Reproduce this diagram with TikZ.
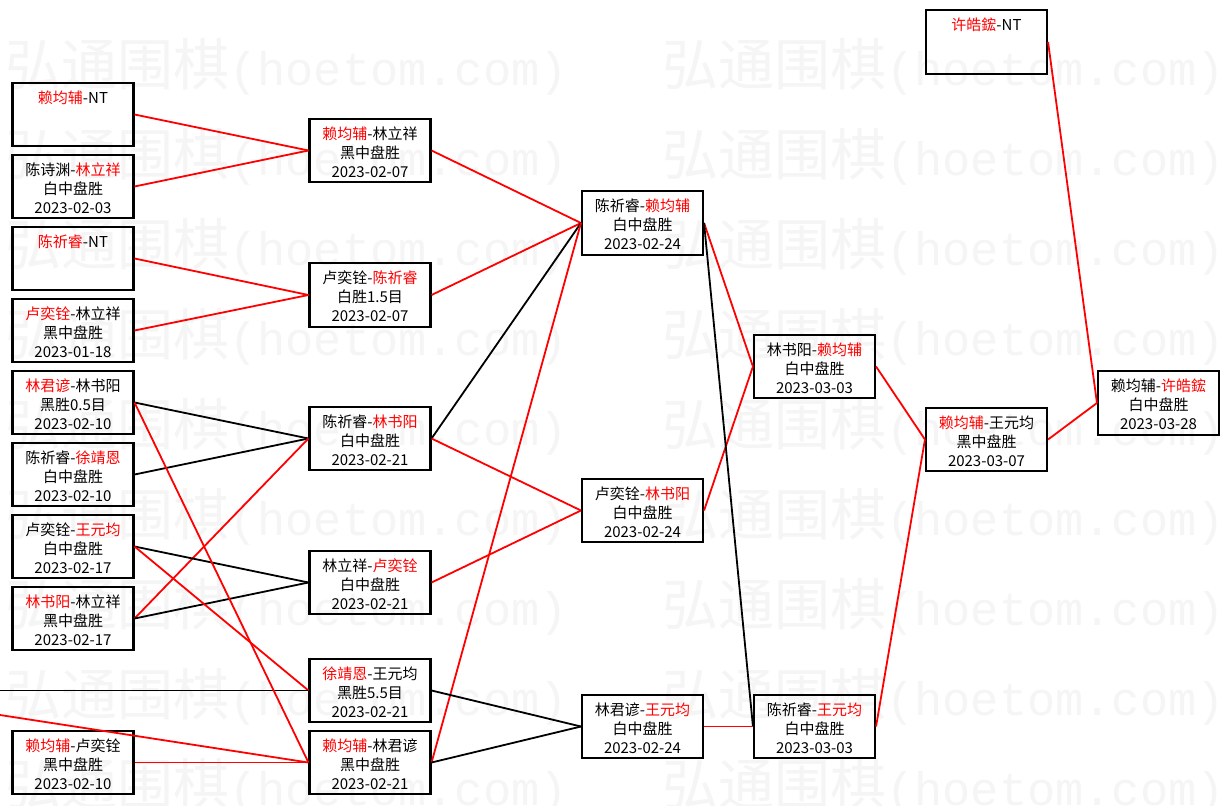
\documentclass[tikz,border=0pt]{standalone}
\usepackage{fontspec}
\setmainfont{Noto Sans CJK SC}
\newfontfamily\wmlat{Liberation Mono}
\newcommand\gtext[3]{\rule{0pt}{16pt}#1\\#2\\#3\vphantom{0}}
\newcommand\rd[1]{\textcolor{red}{#1}}
\begin{document}
\begin{tikzpicture}[x=1pt,y=-1pt,
  game/.style={draw=black, line width=2.1pt, minimum width=121pt, minimum height=63.5pt,
    inner sep=0pt, align=center, font=\fontsize{15}{19}\selectfont},
  win/.style={draw=red, line width=1.8pt},
  lose/.style={draw=black, line width=1.8pt},
  wm/.style={anchor=west, inner sep=0pt, text=black!4, font=\fontsize{56}{56}\selectfont}]
\useasboundingbox (0,0) rectangle (1230,805);
\fill[white] (0,0) rectangle (1230,805);
% watermark
\begin{scope}
\clip (0,0) rectangle (1230,805);
\foreach \k in {0,...,8}{
  \foreach \j in {0,1}{
    \node[wm] (wm-\k-\j) at ({5+657*\j},{67+90*\k}) {弘通围棋{\wmlat\fontsize{47}{47}\selectfont(hoetom.com)}};
  }}
\end{scope}
% column 1
\node[game] (b1) at (73,114.5) {\gtext{\rd{赖均辅}-NT}{\mbox{}}{\mbox{}}};
\node[game] (b2) at (73,186.5) {\gtext{陈诗渊-\rd{林立祥}}{白中盘胜}{2023-02-03}};
\node[game] (b3) at (73,258.5) {\gtext{\rd{陈祈睿}-NT}{\mbox{}}{\mbox{}}};
\node[game] (b4) at (73,330.5) {\gtext{\rd{卢奕铨}-林立祥}{黑中盘胜}{2023-01-18}};
\node[game] (b5) at (73,402.5) {\gtext{\rd{林君谚}-林书阳}{黑胜0.5目}{2023-02-10}};
\node[game] (b6) at (73,474.5) {\gtext{陈祈睿-\rd{徐靖恩}}{白中盘胜}{2023-02-10}};
\node[game] (b7) at (73,546.5) {\gtext{卢奕铨-\rd{王元均}}{白中盘胜}{2023-02-17}};
\node[game] (b8) at (73,618.5) {\gtext{\rd{林书阳}-林立祥}{黑中盘胜}{2023-02-17}};
\node[game] (b9) at (73,762.5) {\gtext{\rd{赖均辅}-卢奕铨}{黑中盘胜}{2023-02-10}};
% column 2
\node[game] (c1) at (370,150.5) {\gtext{\rd{赖均辅}-林立祥}{黑中盘胜}{2023-02-07}};
\node[game] (c2) at (370,295) {\gtext{卢奕铨-\rd{陈祈睿}}{白胜1.5目}{2023-02-07}};
\node[game] (c3) at (370,438.5) {\gtext{陈祈睿-\rd{林书阳}}{白中盘胜}{2023-02-21}};
\node[game] (c4) at (370,582.5) {\gtext{林立祥-\rd{卢奕铨}}{白中盘胜}{2023-02-21}};
\node[game] (c5) at (370,690.5) {\gtext{\rd{徐靖恩}-王元均}{黑胜5.5目}{2023-02-21}};
\node[game] (c6) at (370,762.5) {\gtext{\rd{赖均辅}-林君谚}{黑中盘胜}{2023-02-21}};
% column 3
\node[game] (d1) at (642.5,223) {\gtext{陈祈睿-\rd{赖均辅}}{白中盘胜}{2023-02-24}};
\node[game] (d2) at (642.5,510.5) {\gtext{卢奕铨-\rd{林书阳}}{白中盘胜}{2023-02-24}};
\node[game] (d3) at (642.5,726.5) {\gtext{林君谚-\rd{王元均}}{白中盘胜}{2023-02-24}};
% column 4
\node[game] (e1) at (814.5,366.5) {\gtext{林书阳-\rd{赖均辅}}{白中盘胜}{2023-03-03}};
\node[game] (e2) at (814.5,726.5) {\gtext{陈祈睿-\rd{王元均}}{白中盘胜}{2023-03-03}};
% column 5
\node[game] (f0) at (986.5,42) {\gtext{\rd{许皓鋐}-NT}{\mbox{}}{\mbox{}}};
\node[game] (f1) at (986.5,439.5) {\gtext{\rd{赖均辅}-王元均}{黑中盘胜}{2023-03-07}};
% column 6
\node[game] (g1) at (1158.5,403) {\gtext{赖均辅-\rd{许皓鋐}}{白中盘胜}{2023-03-28}};
% off-page ends
\coordinate (o1) at (0,690.5);
\coordinate (o2) at (0,715);
% connectors
\draw[win] (b1.east) -- (c1.west);
\draw[win] (b2.east) -- (c1.west);
\draw[win] (b3.east) -- (c2.west);
\draw[win] (b4.east) -- (c2.west);
\draw[lose] (b5.east) -- (c3.west);
\draw[lose] (b6.east) -- (c3.west);
\draw[win] (b8.east) -- (c3.west);
\draw[lose] (b7.east) -- (c4.west);
\draw[lose] (b8.east) -- (c4.west);
\draw[win] (b7.east) -- (c5.west);
\draw[lose] (o1) -- (c5.west);
\draw[win] (b5.east) -- (c6.west);
\draw[win] (o2) -- (c6.west);
\draw[win] (b9.east) -- (c6.west);
\draw[win] (c1.east) -- (d1.west);
\draw[win] (c2.east) -- (d1.west);
\draw[lose] (c3.east) -- (d1.west);
\draw[win] (c6.east) -- (d1.west);
\draw[win] (c3.east) -- (d2.west);
\draw[win] (c4.east) -- (d2.west);
\draw[lose] (c5.east) -- (d3.west);
\draw[lose] (c6.east) -- (d3.west);
\draw[win] (d1.east) -- (e1.west);
\draw[win] (d2.east) -- (e1.west);
\draw[lose] (d1.east) -- (e2.west);
\draw[win] (d3.east) -- (e2.west);
\draw[win] (e1.east) -- (f1.west);
\draw[win] (e2.east) -- (f1.west);
\draw[win] (f1.east) -- (g1.west);
\draw[win] (f0.east) -- (g1.west);
\end{tikzpicture}
\end{document}
